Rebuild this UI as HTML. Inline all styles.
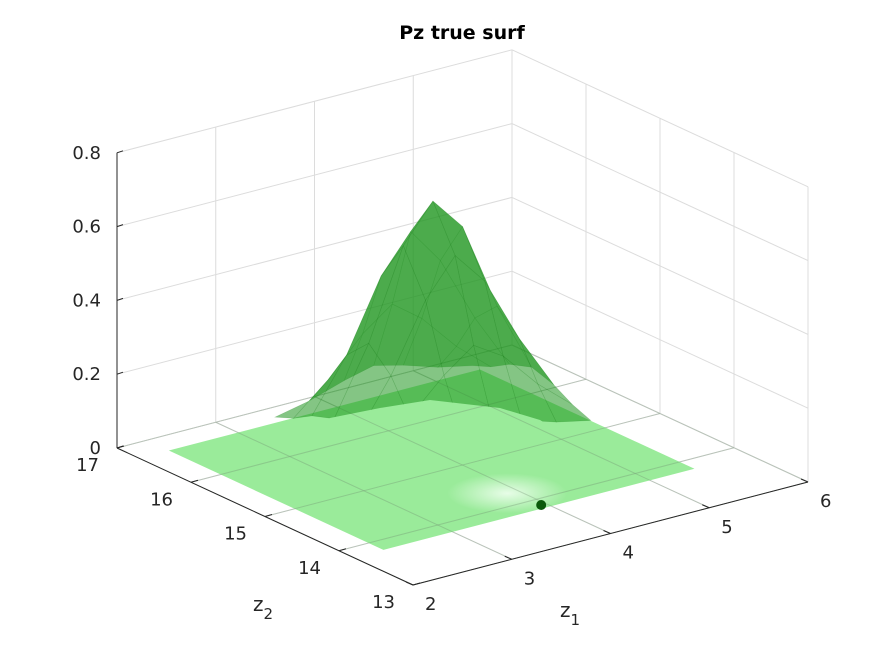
<!DOCTYPE html>
<html><head><meta charset="utf-8"><style>
html,body{margin:0;padding:0;background:#fff;}
svg{display:block;font-family:"DejaVu Sans","Liberation Sans",sans-serif;}
</style></head><body>
<svg id="chart" width="891" height="656" viewBox="0 0 891 656" xmlns="http://www.w3.org/2000/svg">
<defs>
<clipPath id="rimclip"><path d="M0,0 L891,0 L891,445 L570,438 L540,420 L500,408 L430,400 L380,408 L330,418 L290,440 L0,445 Z"/></clipPath>
</defs>
<text x="462" y="39" text-anchor="middle" font-size="19" font-weight="bold" fill="#000">Pz true surf</text>
<g id="grid"></g>
<g id="floor"></g>
<g id="surf" clip-path="url(#rimclip)"></g>
<g id="mark"></g>
<g id="axes"></g>
</svg>
<script>
const z1Ticks=[2,3,4,5,6];
const z2Ticks=[13,14,15,16,17];
const hTicks=[0,0.2,0.4,0.6,0.8];
const hTickLabels=["0","0.2","0.4","0.6","0.8"];
const peakZ1=[3.3,3.65,4.0,4.3,4.6,4.95,5.3];
const peakZ2=[15.0,15.25,15.5,15.8,16.1,16.35,16.6];
const peakH=[
[0.03,0.05,0.08,0.10,0.08,0.05,0.03],
[0.05,0.13,0.22,0.28,0.23,0.13,0.05],
[0.08,0.22,0.40,0.50,0.41,0.23,0.08],
[0.10,0.28,0.52,0.62,0.53,0.29,0.10],
[0.08,0.22,0.41,0.51,0.41,0.23,0.08],
[0.05,0.13,0.23,0.29,0.23,0.13,0.05],
[0.03,0.05,0.08,0.10,0.08,0.05,0.03]];
const floorZ1=[2.3,5.45];
const floorZ2=[13.8,16.7];
const markerPt=[3.95,13.87,0];

const NS="http://www.w3.org/2000/svg";
function P(z1,z2,h){return [413+98.75*(z1-2)-74*(z2-13), 585-25.75*(z1-2)-34.25*(z2-13)-369*h];}
function mk(tag,attrs,parent){const e=document.createElementNS(NS,tag);for(const k in attrs)e.setAttribute(k,attrs[k]);parent.appendChild(e);return e;}
function line(a,b,par,col,w){return mk('line',{x1:a[0],y1:a[1],x2:b[0],y2:b[1],stroke:col,'stroke-width':w||1},par);}
const grid=document.getElementById('grid'),floor=document.getElementById('floor'),surf=document.getElementById('surf'),axes=document.getElementById('axes'),markG=document.getElementById('mark');
const gc='#dcdcdc';
z1Ticks.forEach(v=>{const l=line(P(v,17,0),P(v,17,0.8),grid,gc);});
z2Ticks.forEach(v=>{const l=line(P(6,v,0),P(6,v,0.8),grid,gc);});
hTicks.forEach(v=>{line(P(2,17,v),P(6,17,v),grid,gc);line(P(6,17,v),P(6,13,v),grid,gc);});
z1Ticks.forEach(v=>line(P(v,13,0),P(v,17,0),grid,gc));
z2Ticks.forEach(v=>line(P(2,v,0),P(6,v,0),grid,gc));
const fc=[P(floorZ1[0],floorZ2[1],0),P(floorZ1[0],floorZ2[0],0),P(floorZ1[1],floorZ2[0],0),P(floorZ1[1],floorZ2[1],0)];
const defs=document.querySelector('defs');
const rg=mk('radialGradient',{id:'hl',cx:'0.5',cy:'0.5',r:'0.5'},defs);
mk('stop',{offset:'0','stop-color':'#f0fff0','stop-opacity':'0.9'},rg);
mk('stop',{offset:'1','stop-color':'#f0fff0','stop-opacity':'0'},rg);
const fp=mk('polygon',{points:fc.map(p=>p.join(',')).join(' '),fill:'#88e888','fill-opacity':'0.85'},floor);


const hp=P(3.7,14.4,0);
mk('ellipse',{cx:hp[0]+30,cy:hp[1],rx:60,ry:20,fill:'url(#hl)'},floor);
z1Ticks.forEach(v=>line(P(v,13,0),P(v,17,0),floor,'rgba(120,150,120,0.35)'));
z2Ticks.forEach(v=>line(P(2,v,0),P(6,v,0),floor,'rgba(120,150,120,0.35)'));
const quads=[];
for(let i=0;i<peakZ2.length-1;i++)for(let j=0;j<peakZ1.length-1;j++){
  const pts=[[j,i],[j+1,i],[j+1,i+1],[j,i+1]];
  const depth=pts.reduce((s,q)=>s+peakZ1[q[0]]+peakZ2[q[1]],0);
  quads.push({pts,depth});
}
quads.sort((a,b)=>b.depth-a.depth);
quads.forEach(q=>{
  const pp=q.pts.map(([j,i])=>P(peakZ1[j],peakZ2[i],peakH[i][j]));
  const poly=mk('polygon',{points:pp.map(p=>p.join(',')).join(' '),fill:'#1f961f','fill-opacity':'0.55',stroke:'#137a13','stroke-opacity':'0.2','stroke-width':0.6},surf);
  
  
});
const mp=P(markerPt[0],markerPt[1],markerPt[2]);
const mEl=mk('circle',{cx:mp[0],cy:mp[1],r:5,fill:'#0a5a0a'},markG);


const ac='#262626';
line(P(2,17,0),P(2,17,0.8),axes,ac);
line(P(2,17,0),P(2,13,0),axes,ac);
line(P(2,13,0),P(6,13,0),axes,ac);
hTicks.forEach((v,k)=>{const p=P(2,17,v);line(p,[p[0]+6,p[1]-2],axes,ac);
  const t=mk('text',{x:p[0]-16,y:p[1]+6,'text-anchor':'end','font-size':18,fill:ac},axes);t.textContent=hTickLabels[k];
  });
z2Ticks.forEach(v=>{const p=P(2,v,0);line(p,[p[0]+7,p[1]-2],axes,ac);
  const t=mk('text',{x:p[0]-18,y:p[1]+23,'text-anchor':'end','font-size':18,fill:ac},axes);t.textContent=v;
  });
z1Ticks.forEach(v=>{const p=P(v,13,0);line(p,[p[0]-7,p[1]-3],axes,ac);
  const t=mk('text',{x:p[0]+12,y:p[1]+25,'text-anchor':'start','font-size':18,fill:ac},axes);t.textContent=v;
  });
const x2=mk('text',{x:253,y:611,'font-size':20,fill:ac},axes);x2.innerHTML='z<tspan dy="8" font-size="15">2</tspan>';

const x1=mk('text',{x:560,y:617,'font-size':20,fill:ac},axes);x1.innerHTML='z<tspan dy="8" font-size="15">1</tspan>';

</script>
</body></html>
